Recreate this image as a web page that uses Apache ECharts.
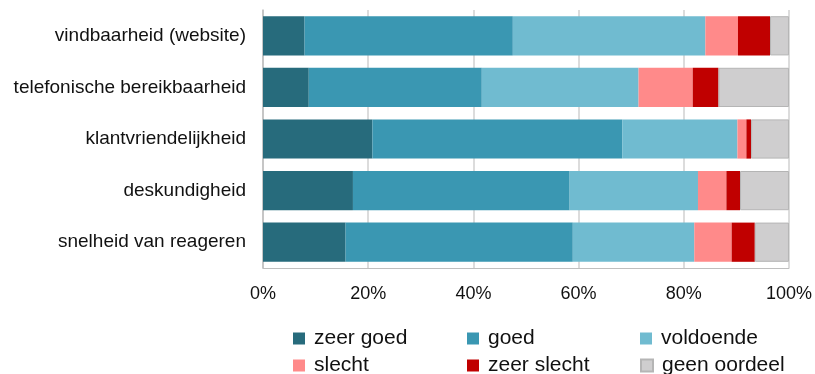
<!DOCTYPE html>
<html>
<head>
<meta charset="utf-8">
<script src="https://cdn.jsdelivr.net/npm/echarts@6/dist/echarts.min.js"></script>
<style>html,body{margin:0;padding:0;background:#fff}#c{width:815px;height:374px}</style>
</head>
<body>
<div id="c"></div>
<script>
const categories = ['vindbaarheid (website)', 'telefonische bereikbaarheid', 'klantvriendelijkheid', 'deskundigheid', 'snelheid van reageren'];
const seriesNames = ['zeer goed', 'goed', 'voldoende', 'slecht', 'zeer slecht', 'geen oordeel'];
const zeerGoed = [7.9, 8.7, 20.8, 17.1, 15.7];
const goed = [39.6, 32.9, 47.5, 41.2, 43.2];
const voldoende = [36.6, 29.8, 21.9, 24.4, 23.1];
const slecht = [6.2, 10.3, 1.7, 5.4, 7.1];
const zeerSlecht = [6.1, 4.9, 0.9, 2.6, 4.4];
const geenOordeel = [3.6, 13.4, 7.2, 9.3, 6.5];
const xTicks = [0, 20, 40, 60, 80, 100];

const values = [zeerGoed, goed, voldoende, slecht, zeerSlecht, geenOordeel];
const colors = ['#276b7c', '#3a97b2', '#70bbd0', '#ff8a8a', '#c00000', '#cfcecf'];
const FONT = '"Liberation Sans", Arial, sans-serif';

const legendPos = [[293, 328], [467, 328], [640, 328], [293, 355], [467, 355], [640, 355]];
const legends = seriesNames.map((n, i) => ({
  data: [n],
  left: legendPos[i][0],
  top: legendPos[i][1],
  orient: 'horizontal',
  padding: 0,
  itemWidth: 12,
  itemHeight: 12,
  icon: 'rect',
  selectedMode: false,
  textStyle: { fontFamily: FONT, fontSize: 21, color: '#111', padding: [0, 0, 0, 4] }
}));

const chart = echarts.init(document.getElementById('c'), null, { renderer: 'canvas' });
chart.setOption({
  animation: false,
  color: colors,
  grid: { left: 263, right: 26, top: 10, bottom: 106, containLabel: false },
  legend: legends,
  xAxis: {
    type: 'value',
    min: xTicks[0],
    max: xTicks[xTicks.length - 1],
    interval: 20,
    axisLabel: { formatter: '{value}%', fontFamily: FONT, fontSize: 18, color: '#111', margin: 17 },
    axisLine: { show: true, lineStyle: { color: '#bfbfbf', width: 1 } },
    axisTick: { show: false },
    splitLine: { show: true, lineStyle: { color: '#dcdcdc', width: 2 } }
  },
  yAxis: {
    type: 'category',
    inverse: true,
    data: categories,
    axisLabel: { fontFamily: FONT, fontSize: 19, color: '#111', margin: 17 },
    axisLine: { show: true, lineStyle: { color: '#bfbfbf', width: 1.5 } },
    axisTick: { show: false },
    splitLine: { show: false }
  },
  series: seriesNames.map((n, i) => ({
    name: n,
    type: 'bar',
    stack: 'total',
    barCategoryGap: '24%',
    data: values[i],
    itemStyle: i === 5 ? { color: colors[i], borderColor: '#b5b5b5', borderWidth: 1 } : { color: colors[i] }
  }))
});
</script>
</body>
</html>
